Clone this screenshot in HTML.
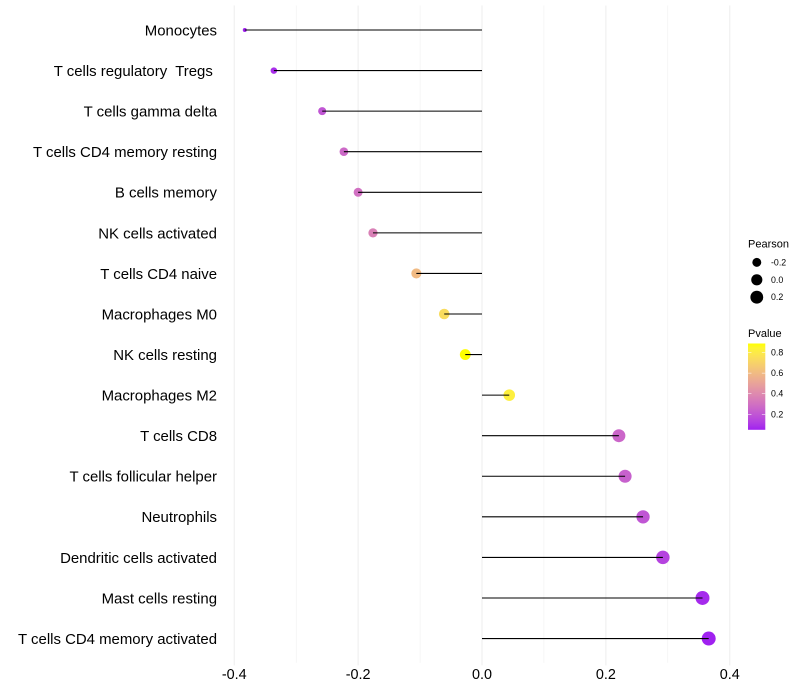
<!DOCTYPE html>
<html>
<head>
<meta charset="utf-8">
<title>Pearson lollipop chart</title>
<style>
html,body{margin:0;padding:0;background:#fff;}
svg{display:block;font-family:"Liberation Sans",Arial,sans-serif;}
</style>
</head>
<body>
<svg id="chart" width="800" height="700" viewBox="0 0 800 700" xmlns="http://www.w3.org/2000/svg">
<rect x="0" y="0" width="800" height="700" fill="#ffffff"/>
<g id="grid"></g>
<g id="points"></g>
<g id="segments"></g>
<g id="ylabels"></g>
<g id="xlabels"></g>
<g id="size-legend">
<text x="748" y="247.5" font-size="11" fill="#000">Pearson</text>
</g>
<g id="color-legend">
<text x="748" y="337" font-size="11" fill="#000">Pvalue</text>
</g>
</svg>
<script>
const categories = ["Monocytes","T cells regulatory  Tregs ","T cells gamma delta","T cells CD4 memory resting","B cells memory","NK cells activated","T cells CD4 naive","Macrophages M0","NK cells resting","Macrophages M2","T cells CD8","T cells follicular helper","Neutrophils","Dendritic cells activated","Mast cells resting","T cells CD4 memory activated"];
const pearson = [-0.383,-0.336,-0.258,-0.223,-0.2,-0.176,-0.106,-0.061,-0.027,0.044,0.221,0.231,0.26,0.292,0.356,0.366];
const pvalue = [0.05,0.08,0.2,0.27,0.3,0.36,0.6,0.74,0.888,0.82,0.26,0.24,0.2,0.14,0.07,0.05];
const xTicks = [-0.4,-0.2,0,0.2,0.4];
const xMinorTicks = [-0.3,-0.1,0.1,0.3];
const sizeLegendValues = [-0.2,0,0.2];
const colorLegendTicks = [0.2,0.4,0.6,0.8];

const NS = "http://www.w3.org/2000/svg";
function make(tag, parent, attrs) {
  const el = document.createElementNS(NS, tag);
  for (const k in attrs) el.setAttribute(k, attrs[k]);
  parent.appendChild(el);
  return el;
}
const xScale = v => 482 + v * 619.4;
const yScale = i => 30 + i * 40.57;
const pearsonMin = Math.min(...pearson);
const pearsonMax = Math.max(...pearson);
const radius = v => 2 + 5 * Math.sqrt(Math.max(0, (v - pearsonMin) / (pearsonMax - pearsonMin)));

// Lab-space purple to yellow gradient
function rgb2lab(r, g, b) {
  const f = c => { c /= 255; return c > 0.04045 ? Math.pow((c + 0.055) / 1.055, 2.4) : c / 12.92; };
  const R = f(r), G = f(g), B = f(b);
  const X = (0.4124 * R + 0.3576 * G + 0.1805 * B) / 0.95047;
  const Y = 0.2126 * R + 0.7152 * G + 0.0722 * B;
  const Z = (0.0193 * R + 0.1192 * G + 0.9505 * B) / 1.08883;
  const h = t => t > 0.008856 ? Math.cbrt(t) : 7.787 * t + 16 / 116;
  return [116 * h(Y) - 16, 500 * (h(X) - h(Y)), 200 * (h(Y) - h(Z))];
}
function lab2rgb(L, a, b) {
  const fy = (L + 16) / 116, fx = a / 500 + fy, fz = fy - b / 200;
  const h = t => t * t * t > 0.008856 ? t * t * t : (t - 16 / 116) / 7.787;
  const X = h(fx) * 0.95047, Y = h(fy), Z = h(fz) * 1.08883;
  const R = 3.2406 * X - 1.5372 * Y - 0.4986 * Z;
  const G = -0.9689 * X + 1.8758 * Y + 0.0415 * Z;
  const B = 0.0557 * X - 0.204 * Y + 1.057 * Z;
  const f = c => {
    c = c > 0.0031308 ? 1.055 * Math.pow(c, 1 / 2.4) - 0.055 : 12.92 * c;
    return Math.round(Math.min(1, Math.max(0, c)) * 255);
  };
  return "rgb(" + f(R) + "," + f(G) + "," + f(B) + ")";
}
const labLow = rgb2lab(160, 32, 240);
const labHigh = rgb2lab(255, 255, 0);
const pMin = 0.049;
const pMax = 0.888;
function colorAt(p) {
  const t = Math.min(1, Math.max(0, (p - pMin) / (pMax - pMin)));
  return lab2rgb(labLow[0] + t * (labHigh[0] - labLow[0]), labLow[1] + t * (labHigh[1] - labLow[1]), labLow[2] + t * (labHigh[2] - labLow[2]));
}

// Grid
const grid = document.getElementById("grid");
xMinorTicks.forEach(v => {
  const line = make("line", grid, {x1: xScale(v), x2: xScale(v), y1: 5.5, y2: 662.8, stroke: "#ededed", "stroke-width": 0.53});
  
  
});
xTicks.forEach(v => {
  const line = make("line", grid, {x1: xScale(v), x2: xScale(v), y1: 5.5, y2: 665.4, stroke: "#eeeeee", "stroke-width": 1.07});
  
  
});

// Points, segments, category labels
const pointsG = document.getElementById("points");
const segG = document.getElementById("segments");
const yG = document.getElementById("ylabels");
categories.forEach((name, i) => {
  const c = make("circle", pointsG, {cx: xScale(pearson[i]), cy: yScale(i), r: radius(pearson[i]), fill: colorAt(pvalue[i])});
  
  
  const s = make("line", segG, {x1: xScale(0), x2: xScale(pearson[i]), y1: yScale(i), y2: yScale(i), stroke: "#000", "stroke-width": 1.07});
  
  
  const t = make("text", yG, {x: 217, y: yScale(i) + 5.4, "text-anchor": "end", "font-size": 14.95, fill: "#000"});
  t.setAttribute('xml:space', 'preserve');
  t.style.whiteSpace = "pre";
  t.textContent = name;
  
  
});

// X tick labels
const xG = document.getElementById("xlabels");
xTicks.forEach(v => {
  const t = make("text", xG, {x: xScale(v), y: 679, "text-anchor": "middle", "font-size": 14.4, fill: "#000"});
  t.textContent = v === 0 ? "0.0" : v.toFixed(1);
  
  
});

// Size legend
const sizeG = document.getElementById("size-legend");
const sizeKeyY = v => 279.8 + v * 87;
sizeLegendValues.forEach(v => {
  const c = make("circle", sizeG, {cx: 756.8, cy: sizeKeyY(v), r: radius(v), fill: "#000"});
  
  
  const t = make("text", sizeG, {x: 771, y: sizeKeyY(v) + 3, "font-size": 8.8, fill: "#000"});
  t.textContent = v === 0 ? "0.0" : v.toFixed(1);
  
  
});

// Colour legend
const colorG = document.getElementById("color-legend");
const barTop = 343.5, barBottom = 429.8, barLeft = 748, barRight = 765.3;
const barY = p => barBottom - (p - pMin) / (pMax - pMin) * (barBottom - barTop);
const defs = make("defs", colorG, {});
const grad = make("linearGradient", defs, {id: "pvalue-gradient", x1: 0, y1: 1, x2: 0, y2: 0});
for (let k = 0; k <= 20; k++) {
  make("stop", grad, {offset: k / 20, "stop-color": colorAt(pMin + (pMax - pMin) * k / 20)});
}
const bar = make("rect", colorG, {x: barLeft, y: barTop, width: barRight - barLeft, height: barBottom - barTop, fill: "url(#pvalue-gradient)"});


colorLegendTicks.forEach(p => {
  const y = barY(p);
  const a = make("line", colorG, {x1: barLeft, x2: barLeft + 3.46, y1: y, y2: y, stroke: "#fff", "stroke-width": 0.53});
  
  
  const b = make("line", colorG, {x1: barRight - 3.46, x2: barRight, y1: y, y2: y, stroke: "#fff", "stroke-width": 0.53});
  
  
  const t = make("text", colorG, {x: 771, y: y + 3, "font-size": 8.8, fill: "#000"});
  t.textContent = p.toFixed(1);
  
  
});
</script>
</body>
</html>
